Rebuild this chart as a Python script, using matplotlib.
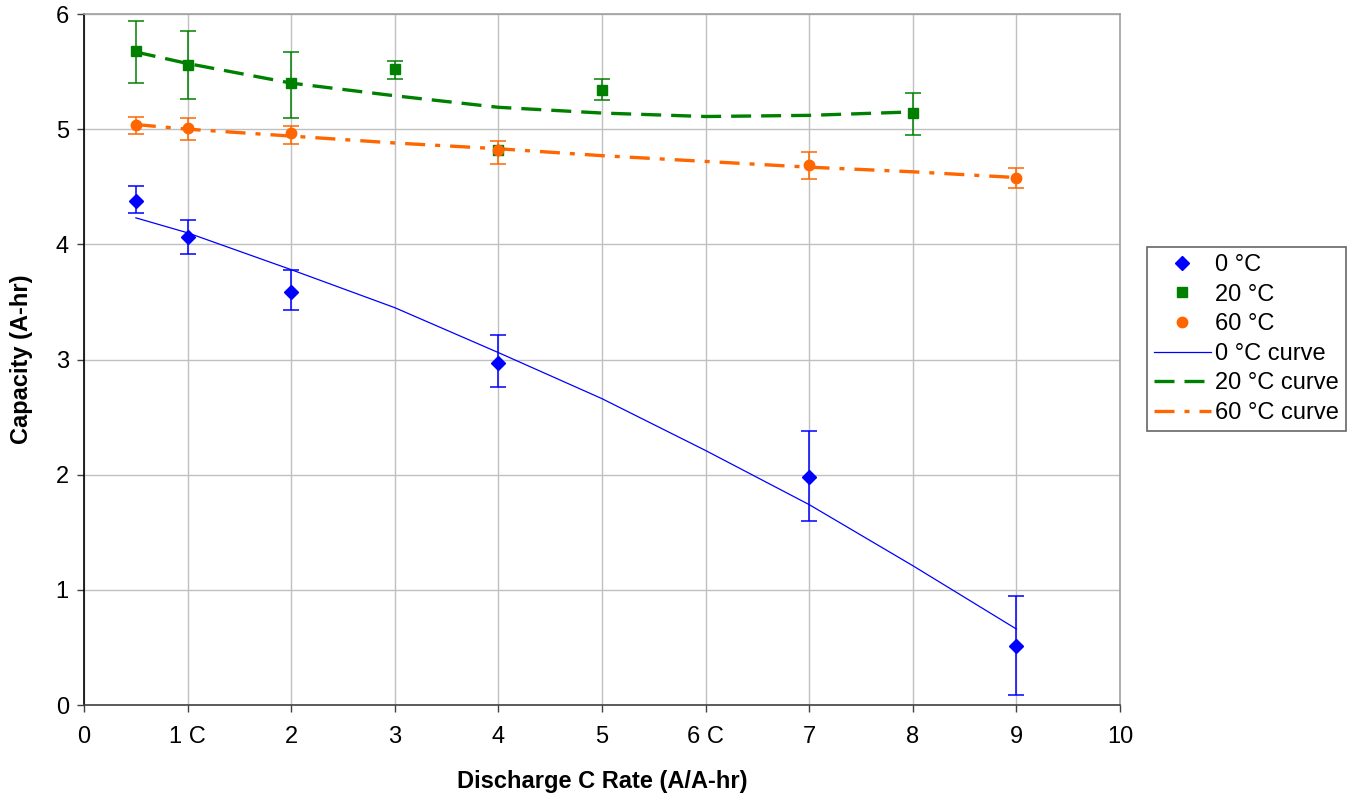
import matplotlib.pyplot as plt
from matplotlib.lines import Line2D

plt.rcParams['font.family'] = ['Liberation Sans', 'DejaVu Sans']

nan = float('nan')

# measured points with error bars
x0 = [0.5, 1, 2, 4, 7, 9]
y0 = [4.38, 4.06, 3.59, 2.97, 1.98, 0.51]
lo0 = [4.27, 3.92, 3.43, 2.76, 1.60, 0.09]
hi0 = [4.51, 4.21, 3.78, 3.21, 2.38, 0.95]

x20 = [0.5, 1, 2, 3, 4, 5, 8]
y20 = [5.68, 5.56, 5.40, 5.52, 4.82, 5.34, 5.14]
lo20 = [5.40, 5.26, 5.10, 5.44, nan, 5.25, 4.95]
hi20 = [5.94, 5.85, 5.67, 5.59, nan, 5.44, 5.31]

x60 = [0.5, 1, 2, 4, 7, 9]
y60 = [5.04, 5.01, 4.97, 4.82, 4.69, 4.58]
lo60 = [4.96, 4.91, 4.87, 4.70, 4.57, 4.49]
hi60 = [5.11, 5.10, 5.03, 4.90, 4.80, 4.66]

# fitted curves
cx0 = [0.5, 1, 2, 3, 4, 5, 6, 7, 8, 9]
cy0 = [4.23, 4.10, 3.78, 3.45, 3.06, 2.66, 2.21, 1.74, 1.21, 0.66]
cx20 = [0.5, 1, 2, 3, 4, 5, 6, 7, 8]
cy20 = [5.67, 5.57, 5.40, 5.29, 5.19, 5.14, 5.11, 5.12, 5.15]
cx60 = [0.5, 1, 2, 3, 4, 5, 6, 7, 8, 9]
cy60 = [5.04, 5.00, 4.94, 4.88, 4.83, 4.77, 4.72, 4.67, 4.63, 4.58]

xticklabels = ['0', '1 C', '2', '3', '4', '5', '6 C', '7', '8', '9', '10']

blue = '#0000ff'
green = '#008000'
orange = '#ff6600'

fig = plt.figure(figsize=(13.58, 7.96), dpi=100)
ax = fig.add_axes([0.0619, 0.1143, 0.7628, 0.8681])

def err(y, lo, hi):
    return [[a - b for a, b in zip(y, lo)], [b - a for a, b in zip(y, hi)]]

ax.plot(cx0, cy0, color=blue, lw=0.9, zorder=3)
ax.plot(cx20, cy20, color=green, lw=2.4, dashes=(6, 3), zorder=3)
ax.plot(cx60, cy60, color=orange, lw=2.4, dashes=(6, 3, 1.5, 3), zorder=3)

ax.errorbar(x0, y0, yerr=err(y0, lo0, hi0), fmt='D', color=blue, ms=7.5,
            elinewidth=1.1, capsize=5.5, capthick=1.1, zorder=4)
ax.errorbar(x20, y20, yerr=err(y20, lo20, hi20), fmt='s', color=green, ms=7,
            elinewidth=1.1, capsize=5.5, capthick=1.1, zorder=4)
ax.errorbar(x60, y60, yerr=err(y60, lo60, hi60), fmt='o', color=orange, ms=7.5,
            elinewidth=1.1, capsize=5.5, capthick=1.1, zorder=4)

ax.set_xlim(0, 10)
ax.set_ylim(0, 6)
ax.set_xticks(range(11))
ax.set_xticklabels(xticklabels)
ax.set_yticks(range(7))
ax.grid(True, color='#c0c0c0', lw=1)
ax.set_axisbelow(True)
ax.tick_params(labelsize=17, direction='out', length=5, width=1, color='#404040')
ax.tick_params(axis='x', pad=10)
ax.tick_params(axis='y', pad=6)
ax.spines['left'].set_color('black')
ax.spines['bottom'].set_color('#404040')
ax.spines['top'].set_color('#a0a0a0')
ax.spines['right'].set_color('#a0a0a0')
for s in ax.spines.values():
    s.set_linewidth(1.2)

ax.set_xlabel('Discharge C Rate (A/A-hr)', fontsize=17, fontweight='bold', labelpad=16)
ax.set_ylabel('Capacity (A-hr)', fontsize=17, fontweight='bold', labelpad=16)

handles = [
    Line2D([], [], ls='none', marker='D', color=blue, ms=7.5),
    Line2D([], [], ls='none', marker='s', color=green, ms=7),
    Line2D([], [], ls='none', marker='o', color=orange, ms=7.5),
    Line2D([], [], color=blue, lw=0.9),
    Line2D([], [], color=green, lw=2.4, dashes=(6, 3)),
    Line2D([], [], color=orange, lw=2.4, dashes=(6, 3, 1.5, 3)),
]
labels = ['0 °C', '20 °C', '60 °C', '0 °C curve', '20 °C curve', '60 °C curve']
leg = fig.legend(handles, labels, loc='center left', bbox_to_anchor=(0.8446, 0.574),
                 fontsize=17, frameon=True, fancybox=False, edgecolor='#404040',
                 handlelength=2.4, handletextpad=0.2, borderpad=0.3, labelspacing=0.32,
                 borderaxespad=0)
leg.get_frame().set_linewidth(1.2)

fig.savefig('out.png', dpi=100)
